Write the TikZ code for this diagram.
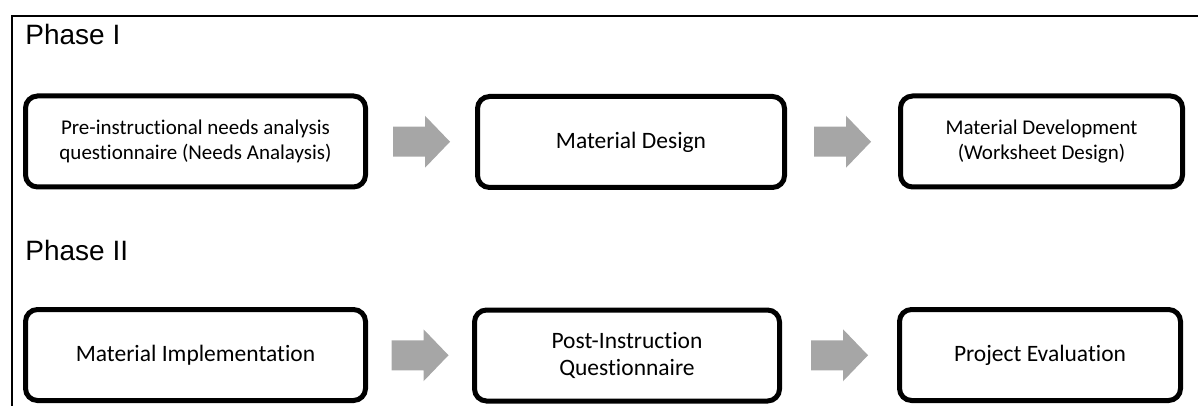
\documentclass[tikz,border=0pt]{standalone}
\usepackage{fontspec}
\setmainfont{Carlito}[RawFeature=-liga]
\newfontfamily\phasefont{Liberation Sans}
\usepackage{tikz}
\usetikzlibrary{calc}
\definecolor{arrowgray}{HTML}{A6A6A6}
\tikzset{
  stagebox/.style={draw, line width=2.5pt, rounded corners=6pt, minimum height=45.5pt, align=center, inner sep=0pt},
  phaselabel/.style={anchor=base west, inner sep=0pt, font=\phasefont\fontsize{14}{16}\selectfont},
  bigtext/.style={font=\fontsize{11.75}{13.5}\selectfont},
  smalltext/.style={font=\fontsize{10.5}{12.8}\selectfont},
  grayarrow/.pic={\fill[arrowgray] (-28.5,-15) -- (3.5,-15) -- (3.5,-26) -- (28.5,0) -- (3.5,26) -- (3.5,15) -- (-28.5,15) -- cycle;}
}

\begin{document}
\begin{tikzpicture}[x=0.5pt,y=-0.5pt]
\useasboundingbox (0,0) rectangle (1198,406);
\draw[line width=1.4pt] (1198,16) -- (12,16) -- (12,406);

% Phase I
\node[phaselabel] (phaseone) at (25,45) {Phase I};
\node[stagebox,smalltext,minimum width=170pt] (needs) at (195.5,141.5) {Pre-instructional needs analysis\\questionnaire (Needs Analaysis)};
\node[stagebox,bigtext,minimum width=153.5pt] (design) at (631,142) {Material Design};
\node[stagebox,smalltext,minimum width=141pt] (develop) at (1041.5,141.5) {Material Development\\(Worksheet Design)};
\pic at ($(needs.east)!0.5!(design.west)$) {grayarrow};
\pic at ($(design.east)!0.5!(develop.west)$) {grayarrow};

% Phase II
\node[phaselabel] (phasetwo) at (25,260) {Phase II};
\node[stagebox,bigtext,minimum width=170pt] (implement) at (195.5,355) {Material Implementation};
\node[stagebox,bigtext,minimum width=152.5pt] (postq) at (627,355.5) {Post-Instruction\\Questionnaire};
\node[stagebox,bigtext,minimum width=140.5pt] (evaluate) at (1040,355) {Project Evaluation};
\pic at ($(implement.east)!0.5!(postq.west)$) {grayarrow};
\pic at ($(postq.east)!0.5!(evaluate.west)$) {grayarrow};
\end{tikzpicture}
\end{document}
